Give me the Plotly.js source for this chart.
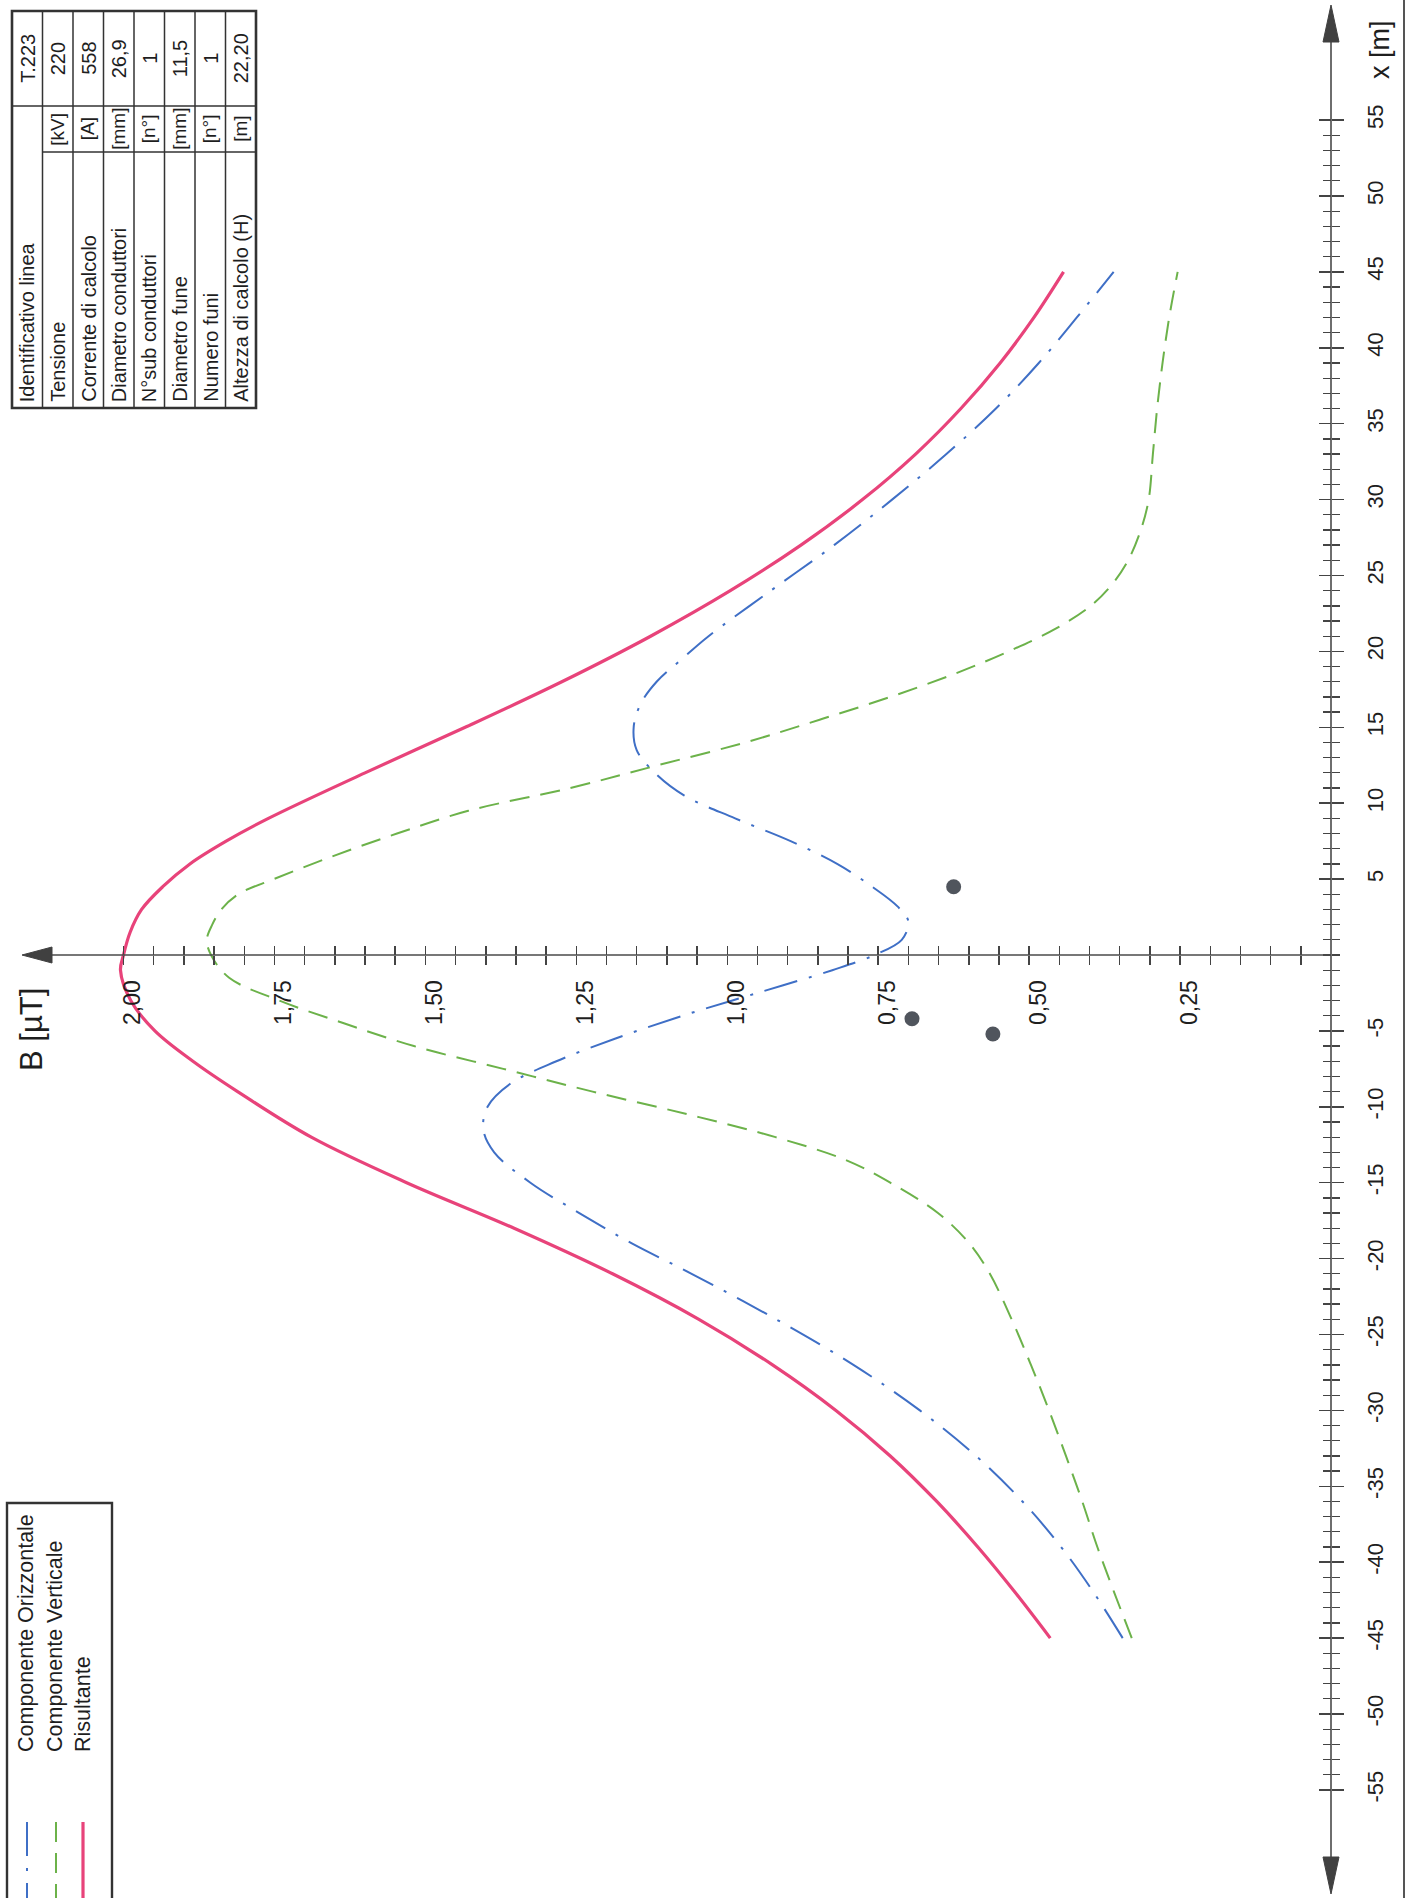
<!DOCTYPE html>
<html><head><meta charset="utf-8">
<script src="https://cdn.plot.ly/plotly-3.0.1.min.js"></script>
<style>html,body{margin:0;padding:0;background:#fff;}#chart{width:1408px;height:1898px;}</style>
</head><body><div id="chart"></div>
<script>
// ---------- data ----------
const seriesNames = ['Componente Orizzontale', 'Componente Verticale', 'Risultante'];

const distOrizz = [-45,-42,-39,-36,-33,-30,-27,-24,-21,-19,-17,-15,-13,-11.5,-10,-8.5,-7,-5.5,-4,-2.5,-1,0,1,2.2,3.2,4.5,6,7.5,9,10.5,12,13.5,15,16.5,18,19.5,21,24,27,30,33,36,39,42,45];
const bOrizz    = [0.345,0.393,0.447,0.511,0.588,0.681,0.791,0.919,1.059,1.158,1.245,1.326,1.386,1.404,1.397,1.360,1.283,1.185,1.074,0.950,0.826,0.756,0.711,0.700,0.718,0.760,0.818,0.895,0.987,1.071,1.120,1.150,1.155,1.144,1.117,1.075,1.031,0.928,0.823,0.727,0.637,0.555,0.484,0.421,0.360];

const distVert = [-45,-42,-39,-36,-33,-30,-27,-24,-21,-19,-17,-15,-13.5,-12,-10.5,-9,-7.5,-6,-4.5,-3,-1.5,0,1,2,3,4,5,6.5,8,9.5,11,12.5,14,15.5,17,18.5,20,21.5,23,24.5,26,28,30,33,36,39,42,45];
const bVert    = [0.330,0.359,0.387,0.412,0.439,0.467,0.497,0.529,0.565,0.599,0.651,0.730,0.804,0.920,1.065,1.223,1.371,1.519,1.635,1.742,1.825,1.855,1.862,1.853,1.838,1.810,1.751,1.654,1.547,1.429,1.260,1.115,0.970,0.847,0.730,0.625,0.534,0.456,0.398,0.361,0.336,0.315,0.302,0.295,0.288,0.279,0.268,0.254];

const distRis = [-45,-42,-39,-36,-33,-30,-27,-24,-21,-18,-15,-12,-9,-7,-5,-3,-1,0,1.5,3,4.5,6,7.5,9,12,15,18,21,24,27,30,33,36,39,42,45];
const bRis    = [0.465,0.523,0.585,0.653,0.730,0.820,0.925,1.047,1.190,1.353,1.531,1.689,1.811,1.885,1.948,1.988,2.005,2.000,1.989,1.970,1.935,1.890,1.830,1.760,1.600,1.434,1.274,1.127,0.995,0.878,0.776,0.688,0.613,0.548,0.492,0.443];

const dotDist = [4.5, -4.2, -5.2];
const dotB    = [0.625, 0.694, 0.560];

const bMajorTicks  = [0.25, 0.50, 0.75, 1.00, 1.25, 1.50, 1.75, 2.00];
const bMajorLabels = ['0,25', '0,50', '0,75', '1,00', '1,25', '1,50', '1,75', '2,00'];
const mMajorTicks  = [-55,-50,-45,-40,-35,-30,-25,-20,-15,-10,-5,5,10,15,20,25,30,35,40,45,50,55];
const mMajorLabels = ['-55','-50','-45','-40','-35','-30','-25','-20','-15','-10','-5','5','10','15','20','25','30','35','40','45','50','55'];

const tableLabels = ['Identificativo linea','Tensione','Corrente di calcolo','Diametro conduttori','N°sub conduttori','Diametro fune','Numero funi','Altezza di calcolo (H)'];
const tableUnits  = ['','[kV]','[A]','[mm]','[n°]','[mm]','[n°]','[m]'];
const tableValues = ['T.223','220','558','26,9','1','11,5','1','22,20'];

// ---------- geometry ----------
const W = 1408, H = 1898;
const B0PX = 1331, BPX = 603.75, M0PY = 955, MPY = 15.18;
const bAt = px => (B0PX - px) / BPX;
const mAt = py => (M0PY - py) / MPY;
const xr = [bAt(0), bAt(W)];
const yr = [mAt(H), mAt(0)];
const xPos = (0 - yr[0]) / (yr[1] - yr[0]);
const yPos = (0 - xr[0]) / (xr[1] - xr[0]);
const PX = x => x / W, PY = y => 1 - y / H;

const FONT = 'Liberation Sans, Arial, sans-serif';
const AX = '#4a4a4a';
const colors = ['#3f6fc6', '#6cb24a', '#e8437a'];
const dashes = ['34px,12px,3px,12px', '20px,11px', 'solid'];
const widths = [2, 2, 3.2];

// B ticks every 0.05
const bTickVals = [], bTickText = [];
for (let i = 1; i <= 40; i++) {
  const v = Math.round(i * 5) / 100;
  bTickVals.push(v);
  const k = bMajorTicks.findIndex(t => Math.abs(t - v) < 1e-9);
  bTickText.push(k >= 0 ? bMajorLabels[k] : '');
}
const mMinor = [];
for (let m = -55; m <= 55; m++) mMinor.push(m);

// ---------- traces ----------
const xs = [bOrizz, bVert, bRis], ys = [distOrizz, distVert, distRis];
const traces = seriesNames.map((n, i) => ({
  type: 'scatter', mode: 'lines', name: n, x: xs[i], y: ys[i],
  line: {color: colors[i], width: widths[i], dash: dashes[i], shape: 'spline', smoothing: 1},
  showlegend: false, hoverinfo: 'skip'
}));
traces.push({
  type: 'scatter', mode: 'markers', x: dotB, y: dotDist, xaxis: 'x2', yaxis: 'y2',
  marker: {size: 15, color: '#50555d'}, showlegend: false, hoverinfo: 'skip'
});

// ---------- shapes ----------
const shapes = [];
const line = (x0, y0, x1, y1, w, c, dash) => shapes.push({type: 'line', xref: 'paper', yref: 'paper',
  x0: PX(x0), y0: PY(y0), x1: PX(x1), y1: PY(y1), line: {color: c || '#333', width: w || 1.5, dash: dash || 'solid'}});
const tri = (pts, c) => shapes.push({type: 'path', xref: 'paper', yref: 'paper',
  path: 'M' + pts.map(p => PX(p[0]) + ',' + PY(p[1])).join(' L') + ' Z', fillcolor: c, line: {color: c, width: 1}});

// axis lines (data coordinates)
shapes.push({type: 'line', xref: 'x', yref: 'y', x0: bAt(48), x1: 0, y0: 0, y1: 0, line: {color: AX, width: 1.6}});
shapes.push({type: 'line', xref: 'x', yref: 'y', x0: 0, x1: 0, y0: mAt(1858), y1: mAt(40), line: {color: AX, width: 1.6}});
// arrows
tri([[1331, 5], [1323, 42], [1339, 42]], '#404040');
tri([[1331, 1894], [1323, 1857], [1339, 1857]], '#404040');
tri([[22, 955], [52, 947], [52, 963]], '#404040');
// right frame
line(1404, 0, 1404, H, 2, '#555');

// table
const TL = 12, TR = 256, TT = 11, TB = 408, RW = (TR - TL) / 8, S1 = 106, S2 = 152;
shapes.push({type: 'rect', xref: 'paper', yref: 'paper', x0: PX(TL), x1: PX(TR), y0: PY(TT), y1: PY(TB),
  line: {color: '#333', width: 2.6}});
for (let i = 1; i < 8; i++) line(TL + RW * i, TT, TL + RW * i, TB, 1.5);
line(TL, S1, TR, S1, 1.6);
line(TL + RW, S2, TR, S2, 1.4);

// legend box + samples
shapes.push({type: 'rect', xref: 'paper', yref: 'paper', x0: PX(7), x1: PX(112), y0: PY(1503), y1: PY(1910),
  line: {color: '#333', width: 2.4}});
const legX = [27, 56, 83], legTX = [26, 55, 83];
seriesNames.forEach((n, i) => line(legX[i], 1822, legX[i], 1898, widths[i], colors[i], dashes[i]));

// ---------- annotations ----------
const annotations = [];
const txt = (t, x, y, size, xa, ya) => annotations.push({text: t, xref: 'paper', yref: 'paper', x: PX(x), y: PY(y),
  xanchor: xa || 'center', yanchor: ya || 'middle', textangle: -90, showarrow: false,
  font: {family: FONT, size: size, color: '#1e1e1e'}});
tableLabels.forEach((t, i) => {
  const cx = TL + RW * (i + 0.5);
  txt(t, cx, 404, 20, 'center', 'bottom');
  if (tableUnits[i]) txt(tableUnits[i], cx, (S1 + S2) / 2, 19);
  txt(tableValues[i], cx, (TT + S1) / 2, 20);
});
seriesNames.forEach((n, i) => txt(n, legTX[i], 1754, 21.5, 'center', 'bottom'));
txt('x [m]', 1380, 50, 27);
txt('B [µT]', 31, 1030, 31);

// ---------- layout ----------
const tickCommon = {tickcolor: '#444', tickwidth: 1.5, showgrid: false, zeroline: false, showline: false, fixedrange: true};
const layout = {
  width: W, height: H, margin: {l: 0, r: 0, t: 0, b: 0}, paper_bgcolor: '#fff', plot_bgcolor: 'rgba(0,0,0,0)',
  showlegend: false, hovermode: false,
  xaxis: Object.assign({range: xr, domain: [0, 1], anchor: 'free', position: xPos, side: 'bottom',
    tickmode: 'array', tickvals: bTickVals, ticktext: bTickText, ticks: 'outside', ticklen: 9,
    tickangle: -90, ticklabelstandoff: 6, ticklabelshift: -9, tickfont: {family: FONT, size: 23, color: '#1e1e1e'}}, tickCommon),
  xaxis2: Object.assign({range: xr, overlaying: 'x', anchor: 'free', position: xPos, side: 'bottom',
    tickmode: 'array', tickvals: bTickVals, ticks: 'inside', ticklen: 9, showticklabels: false}, tickCommon),
  yaxis: Object.assign({range: yr, domain: [0, 1], anchor: 'free', position: yPos, side: 'right',
    tickmode: 'array', tickvals: mMajorTicks, ticktext: mMajorLabels, ticks: 'outside', ticklen: 12,
    minor: {tickmode: 'array', tickvals: mMinor, ticks: 'outside', ticklen: 8, tickwidth: 1.3, tickcolor: '#444'},
    tickangle: -90, ticklabelstandoff: 13, tickfont: {family: FONT, size: 22, color: '#1e1e1e'}}, tickCommon),
  yaxis2: Object.assign({range: yr, overlaying: 'y', anchor: 'free', position: yPos, side: 'right',
    tickmode: 'array', tickvals: mMajorTicks, ticks: 'inside', ticklen: 12, showticklabels: false,
    minor: {tickmode: 'array', tickvals: mMinor, ticks: 'inside', ticklen: 8, tickwidth: 1.3, tickcolor: '#444'}}, tickCommon),
  shapes: shapes, annotations: annotations
};
Plotly.newPlot('chart', traces, layout, {staticPlot: true, displayModeBar: false});
</script></body></html>
